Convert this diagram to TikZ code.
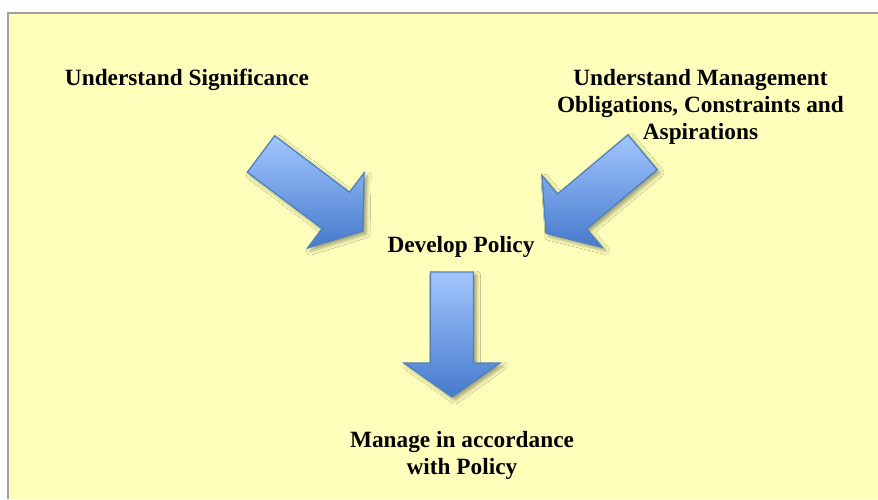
\documentclass[tikz,border=0pt]{standalone}
\usepackage{fontspec}
\setmainfont{Liberation Serif}
\usetikzlibrary{shadows.blur}
\definecolor{bgyellow}{RGB}{255,255,187}
\definecolor{framegray}{RGB}{160,160,160}
\definecolor{arrowtop}{RGB}{162,198,255}
\definecolor{arrowbot}{RGB}{70,122,204}
\definecolor{arrowedge}{RGB}{79,129,189}
\begin{document}
\begin{tikzpicture}[x=1pt,y=-1pt,
  lbl/.style={font=\bfseries\fontsize{23.3}{27}\selectfont, inner sep=0pt, anchor=base, align=center, text=black},
  blockarrow/.style={draw=arrowedge, line width=1.3pt, line join=miter,
    top color=arrowtop, bottom color=arrowbot,
    blur shadow={shadow xshift=3pt, shadow yshift=-3pt, shadow blur radius=4pt, shadow opacity=40}}]
\useasboundingbox (0,0) rectangle (878,499);
% background panel
\fill[bgyellow] (8,13) rectangle (878,499);
\draw[framegray, line width=1.3pt] (8,499) -- (8,13) -- (878,13);

% labels (base anchor = baseline of the last line)
\node[lbl] (sig) at (187,85) {Understand Significance};
\node[lbl] (mgmt) at (700.5,139) {Understand Management\\Obligations, Constraints and\\Aspirations};
\node[lbl] (dev) at (461,252.5) {Develop Policy};
\node[lbl] (man) at (462,474.5) {Manage in accordance\\with Policy};

% block arrows
\path[blockarrow] (247.3,172.2) -- (274.7,135.8) -- (349.5,192.2) -- (364.1,172.9)
  -- (363,230.9) -- (307.5,248) -- (322.1,228.6) -- cycle;
\path[blockarrow] (627.9,134.8) -- (657.1,169.6) -- (586.7,228.8) -- (602.3,247.4)
  -- (546,233.3) -- (541.9,175.4) -- (557.5,194) -- cycle;
\path[blockarrow] (430.5,272) -- (473.5,272) -- (473.5,363) -- (500,363)
  -- (452,397) -- (404,363) -- (430.5,363) -- cycle;
\end{tikzpicture}
\end{document}
